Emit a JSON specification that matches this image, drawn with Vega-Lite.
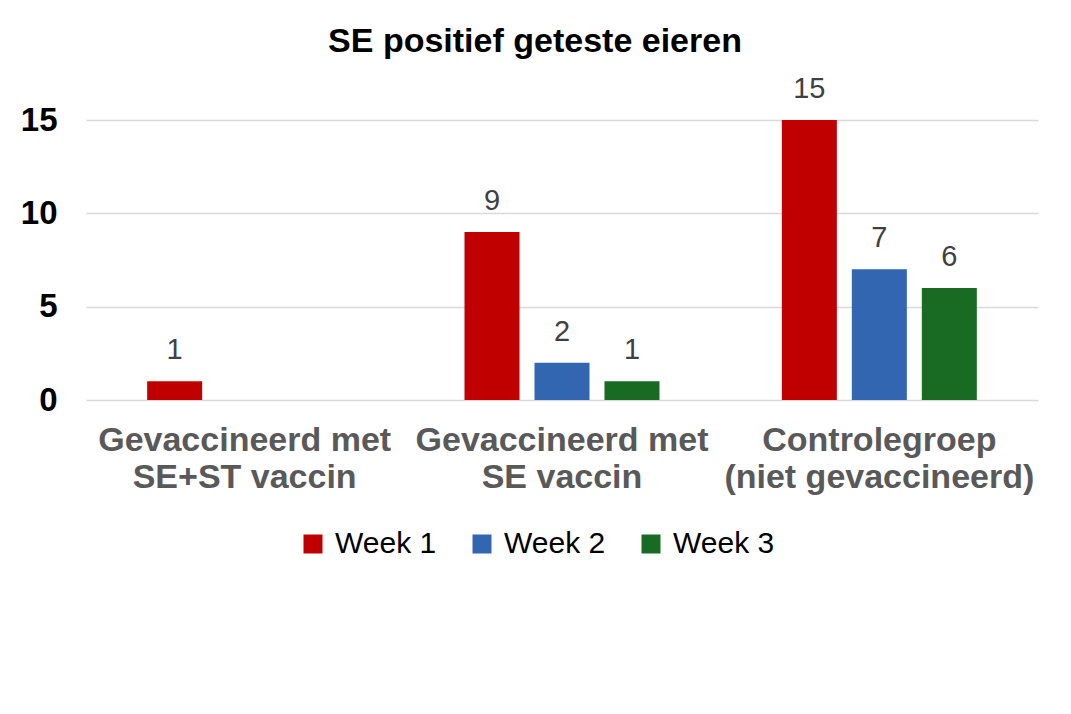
{
  "$schema": "https://vega.github.io/schema/vega-lite/v6.json",
  "width": 952,
  "height": 280,
  "autosize": {"type": "none"},
  "padding": {"left": 86, "top": 120, "right": 33, "bottom": 314},
  "background": "white",
  "title": {
    "text": "SE positief geteste eieren",
    "font": "Liberation Sans",
    "fontSize": 34,
    "fontWeight": "bold",
    "color": "black",
    "anchor": "middle",
    "dx": -27,
    "offset": 16
  },
  "data": {
    "values": [
      {"groep": "Gevaccineerd met SE+ST vaccin", "week": "Week 1", "aantal": 1},
      {"groep": "Gevaccineerd met SE vaccin", "week": "Week 1", "aantal": 9},
      {"groep": "Gevaccineerd met SE vaccin", "week": "Week 2", "aantal": 2},
      {"groep": "Gevaccineerd met SE vaccin", "week": "Week 3", "aantal": 1},
      {"groep": "Controlegroep (niet gevaccineerd)", "week": "Week 1", "aantal": 15},
      {"groep": "Controlegroep (niet gevaccineerd)", "week": "Week 2", "aantal": 7},
      {"groep": "Controlegroep (niet gevaccineerd)", "week": "Week 3", "aantal": 6}
    ]
  },
  "encoding": {
    "x": {
      "field": "groep",
      "type": "nominal",
      "sort": null,
      "scale": {"paddingInner": 0, "paddingOuter": 0},
      "axis": {
        "title": null,
        "labelAngle": 0,
        "ticks": false,
        "tickSize": 0,
        "domain": false,
        "labelLimit": 0,
        "labelFont": "Liberation Sans",
        "labelFontSize": 34,
        "labelFontWeight": "bold",
        "labelColor": "#595959",
        "labelBaseline": "alphabetic",
        "labelLineHeight": 37,
        "labelPadding": 50,
        "labelExpr": "datum.label === 'Gevaccineerd met SE+ST vaccin' ? ['Gevaccineerd met', 'SE+ST vaccin'] : datum.label === 'Gevaccineerd met SE vaccin' ? ['Gevaccineerd met', 'SE vaccin'] : ['Controlegroep', '(niet gevaccineerd)']"
      }
    },
    "xOffset": {
      "field": "week",
      "type": "nominal",
      "scale": {"domain": ["Week 1", "Week 2", "Week 3"], "paddingInner": 0.214, "paddingOuter": 0.874}
    },
    "y": {
      "field": "aantal",
      "type": "quantitative",
      "scale": {"domain": [0, 15]},
      "axis": {
        "title": null,
        "values": [0, 5, 10, 15],
        "domain": false,
        "ticks": false,
        "labelFont": "Liberation Sans",
        "labelFontSize": 33,
        "labelFontWeight": "bold",
        "labelColor": "black",
        "labelPadding": 29,
        "gridColor": "#d9d9d9",
        "gridWidth": 1.5
      }
    }
  },
  "layer": [
    {
      "mark": {"type": "bar"},
      "encoding": {
        "color": {
          "field": "week",
          "type": "nominal",
          "scale": {"domain": ["Week 1", "Week 2", "Week 3"], "range": ["#C00000", "#3366B0", "#196B24"]},
          "legend": {
            "title": null,
            "orient": "none",
            "direction": "horizontal",
            "legendX": 212,
            "legendY": 409,
            "symbolType": "square",
            "symbolSize": 361,
            "symbolStrokeWidth": 0,
            "labelFont": "Liberation Sans",
            "labelFontSize": 30,
            "labelColor": "black",
            "labelOffset": 7,
            "columnPadding": 30
          }
        }
      }
    },
    {
      "mark": {
        "type": "text",
        "baseline": "alphabetic",
        "dy": -22,
        "font": "Liberation Sans",
        "fontSize": 29,
        "color": "#404040"
      },
      "encoding": {
        "text": {"field": "aantal", "type": "quantitative"}
      }
    }
  ],
  "config": {
    "view": {"stroke": null}
  }
}
